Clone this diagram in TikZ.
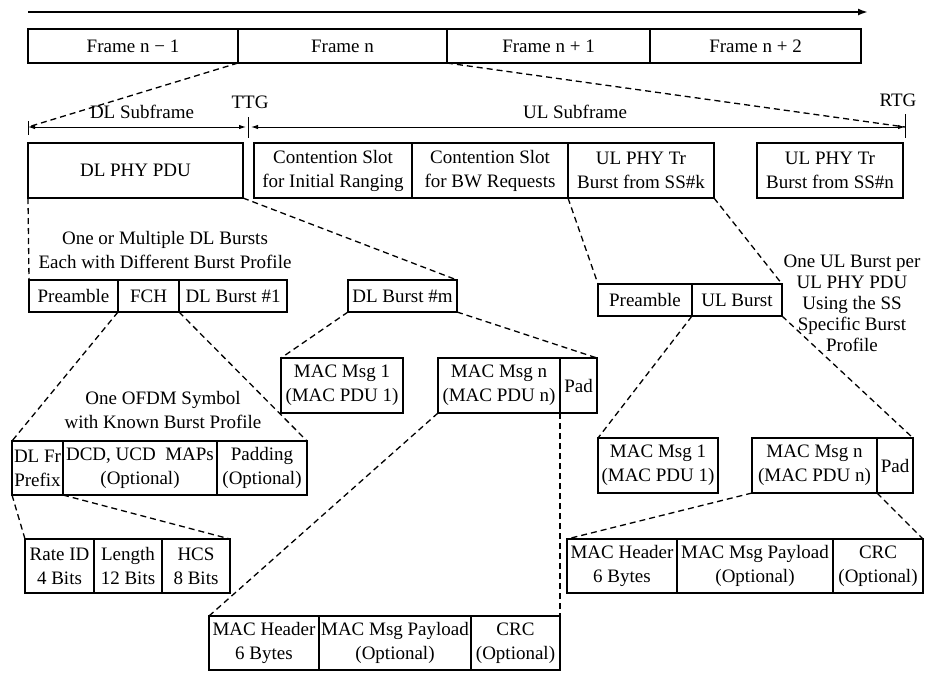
\documentclass[tikz,border=0pt]{standalone}
\usepackage{fontspec}
\setmainfont{Liberation Serif}
\usetikzlibrary{positioning,arrows.meta}

\begin{document}
\begin{tikzpicture}[
  x=1pt,y=-1pt,
  font=\fontsize{19}{24}\selectfont,
  cell/.style={draw,line width=1.4pt,inner sep=0pt,outer sep=0pt,align=center,anchor=north west},
  framebox/.style={cell,minimum height=34pt},
  hdr/.style={cell,minimum height=55pt},
  low/.style={cell,minimum height=32pt},
  tall/.style={cell,minimum height=54pt},
  zoomline/.style={line width=1.3pt,dash pattern=on 6pt off 4pt},
  dimline/.style={{Latex[length=7pt,width=4.5pt]}-{Latex[length=7pt,width=4.5pt]},line width=1pt},
  tick/.style={line width=1pt},
  note/.style={align=center,inner sep=0pt}
]
\useasboundingbox (0,0) rectangle (928,675);

% time axis
\coordinate (t0) at (28,12);
\coordinate (t1) at (868,12);
\draw[line width=2.2pt,-{Latex[length=10pt,width=7pt]}] (t0) -- (t1);

% frames
\node[framebox,minimum width=210pt] (f1) at (28,29) {Frame n − 1};
\node[framebox,minimum width=209pt,right=0pt of f1] (f2) {Frame n};
\node[framebox,minimum width=203pt,right=0pt of f2] (f3) {Frame n + 1};
\node[framebox,minimum width=211pt,right=0pt of f3] (f4) {Frame n + 2};

% subframe dimensions
\coordinate (dlL) at (28,127);
\coordinate (ttgA) at (246,127);
\coordinate (ttgT) at (248.5,127);
\coordinate (ttgB) at (251,127);
\coordinate (rtgpt) at (905,127);
\draw[dimline] (dlL) -- (ttgA);
\draw[dimline] (ttgB) -- (rtgpt);
\draw[tick] ([yshift=6pt]dlL) -- ([yshift=-8pt]dlL);
\draw[tick] ([yshift=10pt]ttgT) -- ([yshift=-11pt]ttgT);
\draw[tick] ([yshift=13pt]rtgpt) -- ([yshift=-11pt]rtgpt);
\node (dlsub) at (142,112) {DL Subframe};
\node (ttg) at (250,102) {TTG};
\node (ulsub) at (575,112) {UL Subframe};
\node (rtg) at (898,100) {RTG};

% frame n contents
\node[hdr,minimum width=215pt] (dlphy) at (28,143) {DL PHY PDU};
\node[hdr,minimum width=158pt] (csir) at (254,143) {Contention Slot\\for Initial Ranging};
\node[hdr,minimum width=156pt,right=0pt of csir] (csbw) {Contention Slot\\for BW Requests};
\node[hdr,minimum width=146pt,right=0pt of csbw] (ulk) {UL PHY Tr\\Burst from SS\#k};
\node[hdr,minimum width=146pt] (uln) at (757,143) {UL PHY Tr\\Burst from SS\#n};

% DL bursts
\node[note] (dlnote) at (165,250) {One or Multiple DL Bursts\\Each with Different Burst Profile};
\node[low,minimum width=89pt] (dlpre) at (29,280) {Preamble};
\node[low,minimum width=61pt,right=0pt of dlpre] (fch) {FCH};
\node[low,minimum width=108pt,right=0pt of fch] (dlb1) {DL Burst \#1};
\node[low,minimum width=109pt] (dlbm) at (348,280) {DL Burst \#m};

% UL burst
\node[note,font=\fontsize{19}{21}\selectfont] (ulnote) at (852,303) {One UL Burst per\\UL PHY PDU\\Using the SS\\Specific Burst\\Profile};
\node[low,minimum width=94pt] (ulpre) at (598,284) {Preamble};
\node[low,minimum width=90pt,right=0pt of ulpre] (ulb) {UL Burst};

% DL MAC messages
\node[hdr,minimum width=122pt] (dlm1) at (281,358) {MAC Msg 1\\(MAC PDU 1)};
\node[hdr,minimum width=122pt] (dlmn) at (438,358) {MAC Msg n\\(MAC PDU n)};
\node[hdr,minimum width=37pt,right=0pt of dlmn] (dlpad) {Pad};

% FCH
\node[note] (fchnote) at (163,410) {One OFDM Symbol\\with Known Burst Profile};
\node[tall,minimum width=51pt] (frp) at (12,441) {DL Fr\\Prefix};
\node[tall,minimum width=154pt,right=0pt of frp] (maps) {DCD, UCD~ MAPs\\(Optional)};
\node[tall,minimum width=90pt,right=0pt of maps] (padg) {Padding\\(Optional)};

% UL MAC messages
\node[hdr,minimum width=120pt] (ulm1) at (598,438) {MAC Msg 1\\(MAC PDU 1)};
\node[hdr,minimum width=125pt] (ulmn) at (752,438) {MAC Msg n\\(MAC PDU n)};
\node[hdr,minimum width=36pt,right=0pt of ulmn] (ulpad) {Pad};

% DL frame prefix
\node[tall,minimum width=69pt] (rate) at (25,539) {Rate ID\\4 Bits};
\node[tall,minimum width=68pt,right=0pt of rate] (len) {Length\\12 Bits};
\node[tall,minimum width=68pt,right=0pt of len] (hcs) {HCS\\8 Bits};

% MAC PDUs
\node[tall,minimum width=110pt] (ulhdr) at (567,539) {MAC Header\\6 Bytes};
\node[tall,minimum width=156pt,right=0pt of ulhdr] (ulpay) {MAC Msg Payload\\(Optional)};
\node[tall,minimum width=90pt,right=0pt of ulpay] (ulcrc) {CRC\\(Optional)};
\node[tall,minimum width=110pt] (dlhdr) at (209,616) {MAC Header\\6 Bytes};
\node[tall,minimum width=152pt,right=0pt of dlhdr] (dlpay) {MAC Msg Payload\\(Optional)};
\node[tall,minimum width=89pt,right=0pt of dlpay] (dlcrc) {CRC\\(Optional)};

% zoom lines
\draw[zoomline] (f2.south west) -- (dlL);
\draw[zoomline] (f2.south east) -- (rtgpt);
\draw[zoomline] (dlphy.south west) -- (dlpre.north west);
\draw[zoomline] (dlphy.south east) -- (dlbm.north east);
\draw[zoomline] (ulk.south west) -- (ulpre.north west);
\draw[zoomline] (ulk.south east) -- (ulb.north east);
\draw[zoomline] (fch.south west) -- (frp.north west);
\draw[zoomline] (fch.south east) -- (padg.north east);
\draw[zoomline] (dlbm.south west) -- (dlm1.north west);
\draw[zoomline] (dlbm.south east) -- (dlpad.north east);
\draw[zoomline] (frp.south west) -- (rate.north west);
\draw[zoomline] (frp.south east) -- (hcs.north east);
\draw[zoomline] (dlmn.south west) -- (dlhdr.north west);
\draw[zoomline] (dlmn.south east) -- (dlcrc.north east);
\draw[zoomline] (ulb.south west) -- (ulm1.north west);
\draw[zoomline] (ulb.south east) -- (ulpad.north east);
\draw[zoomline] (ulmn.south west) -- (ulhdr.north west);
\draw[zoomline] (ulmn.south east) -- (ulcrc.north east);
\end{tikzpicture}
\end{document}
